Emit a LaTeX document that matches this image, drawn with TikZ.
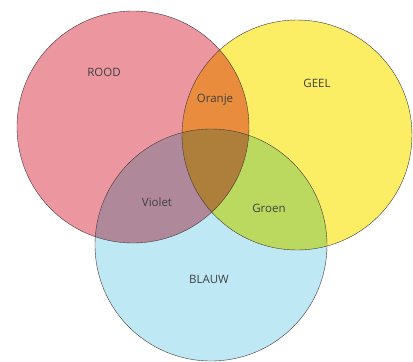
\documentclass[tikz,border=0pt]{standalone}
\usepackage{fontspec}
\setmainfont{Open Sans}
\usetikzlibrary{positioning}
\definecolor{cRood}{RGB}{236,150,160}
\definecolor{cGeel}{RGB}{252,238,100}
\definecolor{cBlauw}{RGB}{190,233,244}
\definecolor{cRand}{RGB}{70,55,60}

\begin{document}
\begin{tikzpicture}[x=1pt, y=-1pt, every node/.style={font=\fontsize{11.5}{13}\selectfont, text=black!75}]
        \useasboundingbox (0,0) rectangle (413,362);
        % gekleurde cirkels
        \begin{scope}[blend group=multiply]
          \fill[cRood] (133,127) circle (116);
          \fill[cGeel] (297,135) circle (115);
          \fill[cBlauw] (211,245) circle (116);
        \end{scope}
        \draw[cRand, thin] (133,127) circle (116);
        \draw[cRand, thin] (297,135) circle (115);
        \draw[cRand, thin] (211,245) circle (116);
        % namen
        \node (rood) at (104,72) {ROOD};
        \node (geel) at (317,83) {GEEL};
        \node (blauw) at (209,279) {BLAUW};
        \node (oranje) at (215,100) {Oranje};
        \node (violet) at (157,202) {Violet};
        \node (groen) at (269,208) {Groen};
      \end{tikzpicture}
\end{document}
